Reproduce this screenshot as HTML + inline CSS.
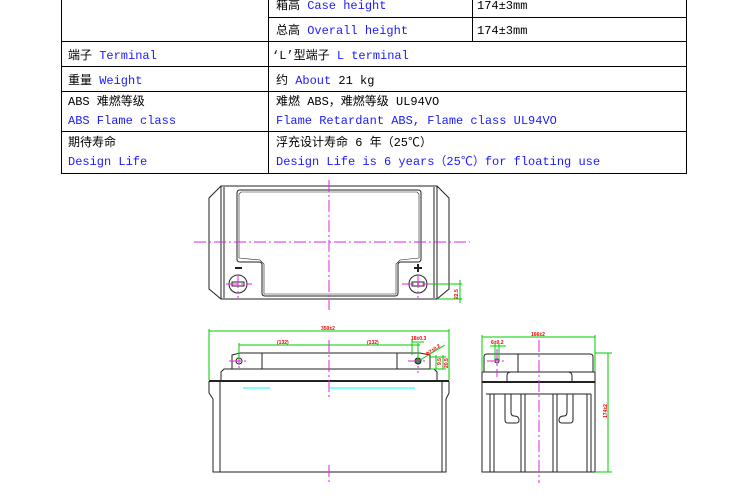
<!DOCTYPE html>
<html><head><meta charset="utf-8"><style>
html,body{margin:0;padding:0;background:#fff;width:750px;height:500px;overflow:hidden}
svg{position:absolute;left:0;top:0}
text{font-family:"Liberation Mono","Noto Sans CJK SC",monospace;font-size:12px}
.k{fill:#000}.b{fill:#1a1aff}
.r{font-family:"Liberation Sans",sans-serif;font-size:5px;fill:#e00;font-weight:bold}
</style></head><body>
<svg width="750" height="500" viewBox="0 0 750 500">
<g stroke="#000" stroke-width="1" fill="none">
<rect x="61.5" y="-1" width="625" height="174.5"/>
<line x1="268.5" y1="-1" x2="268.5" y2="173"/>
<line x1="472.5" y1="-1" x2="472.5" y2="41"/>
<line x1="268" y1="17.5" x2="686" y2="17.5"/>
<line x1="61" y1="41.5" x2="686" y2="41.5"/>
<line x1="61" y1="66.5" x2="686" y2="66.5"/>
<line x1="61" y1="91.5" x2="686" y2="91.5"/>
<line x1="61" y1="131.5" x2="686" y2="131.5"/>
</g>
<text x="276" y="9" class="k">箱高 <tspan class="b">Case height</tspan></text>
<text x="477" y="9" class="k">174±3mm</text>
<text x="276" y="34" class="k">总高 <tspan class="b">Overall height</tspan></text>
<text x="477" y="34" class="k">174±3mm</text>
<text x="68" y="59" class="k">端子 <tspan class="b">Terminal</tspan></text>
<text x="272" y="59" class="k">‘L’型端子 <tspan class="b">L terminal</tspan></text>
<text x="68" y="84" class="k">重量 <tspan class="b">Weight</tspan></text>
<text x="276" y="84" class="k">约 <tspan class="b">About</tspan> 21 kg</text>
<text x="68" y="105" class="k">ABS 难燃等级</text>
<text x="68" y="124" class="b">ABS Flame class</text>
<text x="276" y="105" class="k">难燃 ABS，难燃等级 UL94VO</text>
<text x="276" y="124" class="b">Flame Retardant ABS, Flame class UL94VO</text>
<text x="68" y="146" class="k">期待寿命</text>
<text x="68" y="165" class="b">Design Life</text>
<text x="276" y="146" class="k">浮充设计寿命 6 年（25℃）</text>
<text x="276" y="165" class="b">Design Life is 6 years（25℃）for floating use</text>

<!-- top view -->
<g stroke="#222" stroke-width="1" fill="none">
<path d="M221,186 L437,186 L449,198 L449,289 L437,299 L221,299 L209,289 L209,198 Z"/>
<line x1="221" y1="186" x2="221" y2="299"/><line x1="224" y1="187" x2="224" y2="298"/>
<line x1="437" y1="186" x2="437" y2="299"/><line x1="434" y1="187" x2="434" y2="298"/>
<path d="M240,190 L418,190 Q421,190 421,193 L421,259 Q421,262 418,262 L401,262 Q398,262 398,265 L398,293 Q398,296 395,296 L265,296 Q262,296 262,293 L262,265 Q262,262 259,262 L240,262 Q237,262 237,259 L237,193 Q237,190 240,190 Z"/>
<path d="M241,192 L417,192 L419,194 L419,258 L400,260 L396,264 L396,294 L264,294 L264,264 L260,260 L239,258 L239,194 Z" stroke-width="0.6"/>
<circle cx="238" cy="284" r="9"/><rect x="232" y="282" width="12" height="4"/>
<circle cx="418" cy="284" r="9"/><rect x="412" y="282" width="12" height="4"/>
<line x1="235" y1="268" x2="242" y2="268" stroke-width="2"/>
<line x1="414" y1="268" x2="422" y2="268" stroke-width="2"/><line x1="418" y1="264" x2="418" y2="272" stroke-width="2"/>
</g>
<g stroke="#e020e0" stroke-width="1" stroke-dasharray="12,3,2,3" fill="none">
<line x1="329" y1="180" x2="329" y2="310"/>
<line x1="194" y1="242" x2="470" y2="242"/>
<line x1="226" y1="284" x2="252" y2="284"/><line x1="238" y1="276" x2="238" y2="298"/>
<line x1="402" y1="284" x2="430" y2="284"/><line x1="418" y1="276" x2="418" y2="298"/>
</g>
<g stroke="#0c0" stroke-width="1" fill="none">
<line x1="430" y1="284" x2="462" y2="284"/><line x1="437" y1="299" x2="462" y2="299"/>
<line x1="460" y1="280" x2="460" y2="303"/>
</g>
<text class="r" x="0" y="0" transform="translate(458,299) rotate(-90)">22.5</text>

<!-- front view -->
<g stroke="#222" stroke-width="1" fill="none">
<path d="M232,369 L232,355 L240,353 L262,353 L262,369"/>
<line x1="262" y1="353" x2="397" y2="353"/>
<path d="M397,369 L397,353 L420,353 L430,355 L430,369"/>
<path d="M221,380 L221,372 L224,369 L434,369 L437,372 L437,380"/>
<line x1="209" y1="381" x2="449" y2="381" stroke-width="2"/>
<path d="M209,381 L209,393 L213,399 L213,472 L446,472 L446,399 L449,393 L449,381"/>
<line x1="220" y1="381" x2="220" y2="472"/>
<line x1="442" y1="381" x2="442" y2="472"/>
</g>
<g stroke="#0ff" stroke-width="1"><line x1="243" y1="388" x2="270" y2="388"/><line x1="330" y1="388" x2="415" y2="388"/></g>
<circle cx="239" cy="361" r="3" fill="none" stroke="#222"/>
<circle cx="418" cy="361" r="3" fill="#0a0" stroke="#222"/>
<g stroke="#e020e0" stroke-width="1" stroke-dasharray="12,3,2,3" fill="none">
<line x1="329" y1="340" x2="329" y2="400"/><line x1="329" y1="465" x2="329" y2="485"/>
<line x1="229" y1="361" x2="249" y2="361"/><line x1="239" y1="351" x2="239" y2="371"/>
<line x1="408" y1="361" x2="428" y2="361"/><line x1="418" y1="351" x2="418" y2="373"/>
</g>
<g stroke="#0c0" stroke-width="1" fill="none">
<line x1="209" y1="331" x2="449" y2="331"/><line x1="209" y1="329" x2="209" y2="380"/><line x1="449" y1="329" x2="449" y2="380"/>
<line x1="239" y1="345" x2="420" y2="345"/><line x1="239" y1="343" x2="239" y2="360"/><line x1="418" y1="343" x2="418" y2="360"/>
<line x1="412" y1="342" x2="424" y2="342"/><line x1="412" y1="340" x2="412" y2="355"/>
<line x1="420" y1="360" x2="445" y2="345"/>
<line x1="430" y1="357" x2="446" y2="357"/><line x1="430" y1="369" x2="446" y2="369"/>
<line x1="436" y1="355" x2="436" y2="369"/><line x1="443" y1="355" x2="443" y2="369"/>
</g>
<text class="r" x="321" y="330">350±2</text>
<text class="r" x="277" y="344">(132)</text>
<text class="r" x="367" y="344">(132)</text>
<text class="r" x="411" y="340">18±0.3</text>
<text class="r" x="0" y="0" transform="translate(427,356) rotate(-35)">Φ7±0.2</text>
<text class="r" x="0" y="0" transform="translate(441,365) rotate(-90)">9.5</text>
<text class="r" x="0" y="0" transform="translate(448,368) rotate(-90)">20.5</text>

<!-- side view -->
<g stroke="#222" stroke-width="1" fill="none">
<path d="M484,372 L484,357 Q484,354 487,354 L590,354 Q593,354 593,357 L593,372"/>
<line x1="518" y1="354" x2="518" y2="372"/>
<path d="M482,372 L595,372 L595,382 L482,382 Z"/>
<path d="M507,382 L507,376 Q507,372 511,372 L568,372 Q572,372 572,376 L572,382" />
<line x1="482" y1="382" x2="595" y2="382" stroke-width="2"/>
<path d="M482,382 L482,472 L595,472 L595,382"/>
<line x1="486" y1="394" x2="591" y2="394"/>
<line x1="490" y1="394" x2="490" y2="472"/><line x1="494" y1="394" x2="494" y2="472"/>
<line x1="521" y1="394" x2="521" y2="472"/><line x1="525" y1="394" x2="525" y2="472"/>
<line x1="553" y1="394" x2="553" y2="472"/><line x1="557" y1="394" x2="557" y2="472"/>
<line x1="587" y1="394" x2="587" y2="472"/><line x1="591" y1="394" x2="591" y2="472"/>
<path d="M505,394 L505,420 Q505,423 508,423 L516,423 Q519,423 519,420 Q519,416 514,416 Q511,416 511,412 L511,394"/>
<path d="M573,394 L573,420 Q573,423 570,423 L562,423 Q559,423 559,420 Q559,416 564,416 Q567,416 567,412 L567,394"/>
<circle cx="497" cy="361" r="2"/>
</g>
<g stroke="#e020e0" stroke-width="1" stroke-dasharray="12,3,2,3" fill="none">
<line x1="539" y1="340" x2="539" y2="483"/>
<line x1="487" y1="361" x2="507" y2="361"/><line x1="497" y1="349" x2="497" y2="377"/>
</g>
<g stroke="#0c0" stroke-width="1" fill="none">
<line x1="482" y1="337" x2="595" y2="337"/><line x1="482" y1="335" x2="482" y2="372"/><line x1="595" y1="335" x2="595" y2="372"/>
<line x1="490" y1="346" x2="506" y2="346"/><line x1="495" y1="344" x2="495" y2="360"/><line x1="499" y1="344" x2="499" y2="360"/>
<line x1="595" y1="353" x2="612" y2="353"/><line x1="595" y1="472" x2="612" y2="472"/>
<line x1="608" y1="353" x2="608" y2="472"/>
</g>
<text class="r" x="531" y="336">166±2</text>
<text class="r" x="491" y="344">6±0.2</text>
<text class="r" x="0" y="0" transform="translate(607,418) rotate(-90)">174±2</text>
</svg>
</body></html>
